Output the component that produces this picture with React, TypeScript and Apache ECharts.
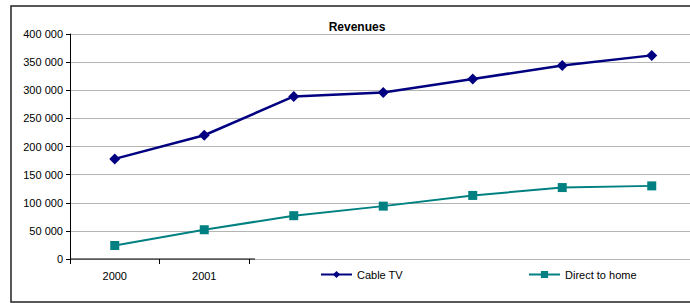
import React, { useEffect, useRef } from "react";
import * as echarts from "echarts";

const categories = ["2000", "2001", "2002", "2003", "2004", "2005", "2006"];
const axisLabels = ["2000", "2001"];
const cableTV = [178000, 220000, 289000, 296000, 320000, 344000, 362000];
const directToHome = [24000, 52000, 77000, 94000, 113000, 127000, 130000];
const title = "Revenues";

const FONT = "'Liberation Sans', Arial, sans-serif";

export default function App() {
  const ref = useRef<HTMLDivElement>(null);
  useEffect(() => {
    const chart = echarts.init(ref.current!, null, { renderer: "svg" });
    const fmt = (v: number) => String(v).replace(/\B(?=(\d{3})+(?!\d))/g, " ");
    // plot area spans 620px visible; each category band is 89.5px wide
    const visibleBands = 620 / 89.5;
    const toPairs = (vals: number[]) => vals.map((v, i) => [i, v, categories[i]]);
    chart.setOption({
      animation: false,
      backgroundColor: "#ffffff",
      textStyle: { fontFamily: FONT },
      title: {
        text: title,
        left: 357,
        top: 21,
        textAlign: "center",
        padding: 0,
        textStyle: { fontSize: 12, fontWeight: "bold", color: "#000", fontFamily: FONT },
      },
      graphic: [
        {
          type: "rect",
          shape: { x: 11, y: 6, width: 700, height: 296 },
          style: { fill: "none", stroke: "#222", lineWidth: 1.5 },
          z: 100,
        },
        {
          type: "line",
          shape: { x1: 70, y1: 259, x2: 255, y2: 259 },
          style: { stroke: "#000", lineWidth: 1 },
          z: 50,
        },
      ],
      legend: [
        {
          data: ["Cable TV"],
          left: 320,
          top: 269,
          padding: 0,
          itemWidth: 31,
          itemHeight: 9,
          textStyle: { fontSize: 11, color: "#000", fontFamily: FONT },
        },
        {
          data: ["Direct to home"],
          left: 528,
          top: 269,
          padding: 0,
          itemWidth: 31,
          itemHeight: 9,
          textStyle: { fontSize: 11, color: "#000", fontFamily: FONT },
        },
      ],
      grid: [
        { left: 70, top: 34, right: 0, bottom: 44 },
        { left: 70, top: 34, width: 179, bottom: 44 },
      ],
      xAxis: [
        {
          type: "value",
          gridIndex: 0,
          min: -0.5,
          max: visibleBands - 0.5,
          axisLine: { show: false, onZero: false },
          axisTick: { show: false },
          axisLabel: { show: false },
          splitLine: { show: false },
        },
        {
          type: "category",
          gridIndex: 1,
          data: axisLabels,
          boundaryGap: true,
          axisLine: { show: false },
          axisTick: { show: true, length: 5, lineStyle: { color: "#000" } },
          axisLabel: { margin: 11, fontSize: 11, color: "#000", fontFamily: FONT },
        },
      ],
      yAxis: [
        {
          type: "value",
          gridIndex: 0,
          min: 0,
          max: 400000,
          interval: 50000,
          axisLine: { show: true, onZero: false, lineStyle: { color: "#000", width: 1 } },
          axisTick: { show: true, length: 4, lineStyle: { color: "#000" } },
          axisLabel: {
            formatter: fmt,
            margin: 7,
            fontSize: 11,
            color: "#000",
            fontFamily: FONT,
          },
          splitLine: { show: true, lineStyle: { color: "#b4b4b4", width: 1 } },
        },
        {
          type: "value",
          gridIndex: 1,
          min: 0,
          max: 400000,
          show: false,
        },
      ],
      series: [
        {
          name: "Cable TV",
          type: "line",
          xAxisIndex: 0,
          yAxisIndex: 0,
          data: toPairs(cableTV),
          symbol: "diamond",
          symbolSize: 11,
          color: "#000080",
          lineStyle: { color: "#000080", width: 2.5 },
          itemStyle: { color: "#000080" },
        },
        {
          name: "Direct to home",
          type: "line",
          xAxisIndex: 0,
          yAxisIndex: 0,
          data: toPairs(directToHome),
          symbol: "rect",
          symbolSize: 9,
          color: "#008080",
          lineStyle: { color: "#008080", width: 2 },
          itemStyle: { color: "#008080" },
        },
      ],
    });
    return () => chart.dispose();
  }, []);
  return (
    <div
      ref={ref}
      style={{ position: "absolute", left: 0, top: 0, width: 690, height: 303 }}
    />
  );
}
